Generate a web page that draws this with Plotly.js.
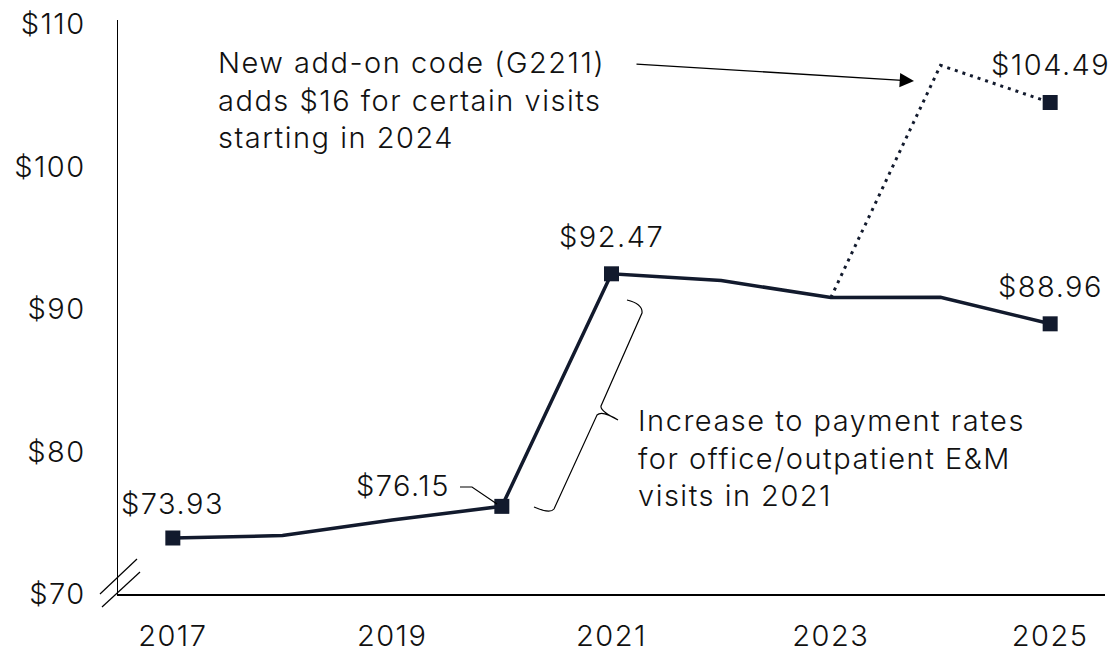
<!DOCTYPE html>
<html>
<head>
<meta charset="utf-8">
<script src="https://cdn.plot.ly/plotly-3.0.1.min.js"></script>
<style>html,body{margin:0;padding:0;background:#fff;}#chart{width:1112px;height:652px;}svg text{letter-spacing:1.5px;}</style>
</head>
<body>
<div id="chart"></div>
<script>
// ---- data ----
const years = [2017, 2018, 2019, 2020, 2021, 2022, 2023, 2024, 2025];
const payment = [73.93, 74.1, 75.2, 76.15, 92.47, 92.0, 90.8, 90.82, 88.96];
const addonYears = [2023, 2024, 2025];
const addonPayment = [90.8, 107.1, 104.49];
const markerIdx = [0, 3, 4, 8];
const xTicks = [2017, 2019, 2021, 2023, 2025];
const yTicks = [70, 80, 90, 100, 110];
const noteAddon = "New add-on code (G2211)<br>adds $16 for certain visits<br>starting in 2024";
const noteIncrease = "Increase to payment rates<br>for office/outpatient E&M<br>visits in 2021";

// ---- layout geometry ----
const W = 1112, H = 652;
const L = 118, R = 1105, T = 20, B = 594;
const px = v => (v - L) / (R - L);
const py = v => (B - v) / (B - T);
const navy = '#121a2d';
const FONT = 'Inter, "Open Sans", sans-serif';
const FS = 29;
const fmt = v => '$' + v.toFixed(2);

const traces = [
  {x: years, y: payment, mode: 'lines', line: {color: navy, width: 3.5}, hoverinfo: 'skip'},
  {x: addonYears, y: addonPayment, mode: 'lines', line: {color: navy, width: 3, dash: '3px,5px'}, hoverinfo: 'skip'},
  {x: markerIdx.map(i => years[i]).concat([addonYears[2]]),
   y: markerIdx.map(i => payment[i]).concat([addonPayment[2]]),
   mode: 'markers', marker: {symbol: 'square', size: 15, color: navy}, hoverinfo: 'skip'}
];

const tfont = {size: FS, color: '#111', family: FONT, weight: 300};
const lab = (x, y, opts) => Object.assign({x: x, y: y, xref: 'x', yref: 'y', text: fmt(y), showarrow: false,
  font: tfont}, opts);

const annotations = [
  lab(years[0], payment[0], {yshift: 35}),
  lab(years[3], payment[3], {xanchor: 'right', xshift: -50, yshift: 21}),
  lab(years[4], payment[4], {yshift: 37}),
  lab(years[8], payment[8], {yshift: 37}),
  lab(addonYears[2], addonPayment[2], {yshift: 38}),
  {x: px(216), y: py(100), xref: 'paper', yref: 'paper', xanchor: 'left', yanchor: 'middle', align: 'left',
   text: noteAddon, showarrow: false, font: tfont},
  {x: px(636), y: py(458), xref: 'paper', yref: 'paper', xanchor: 'left', yanchor: 'middle', align: 'left',
   text: noteIncrease, showarrow: false, font: tfont},
  {x: px(914), y: py(81), xref: 'paper', yref: 'paper', text: '', showarrow: true,
   ax: 635 - 914, ay: 64 - 81, arrowhead: 2, arrowsize: 2.2, arrowwidth: 1.3, arrowcolor: '#000', standoff: 0}
];

const P = (pts) => pts.map((p, i) => (i ? 'L' : 'M') + px(p[0]) + ',' + py(p[1])).join(' ');
const shapes = [
  {type: 'path', xref: 'paper', yref: 'paper', path: P([[460, 487], [472, 487], [497, 504]]), line: {color: '#000', width: 1.2}},
  {type: 'path', xref: 'paper', yref: 'paper',
   path: 'M' + px(627) + ',' + py(300) + ' Q' + px(643) + ',' + py(304) + ' ' + px(642) + ',' + py(313) +
     ' L' + px(601) + ',' + py(406) + ' Q' + px(600) + ',' + py(411) + ' ' + px(618) + ',' + py(420) +
     ' M' + px(618) + ',' + py(420) + ' Q' + px(602) + ',' + py(410) + ' ' + px(597) + ',' + py(415) +
     ' L' + px(554) + ',' + py(509) + ' Q' + px(550) + ',' + py(514) + ' ' + px(534) + ',' + py(507),
   line: {color: '#000', width: 1.2}},
  {type: 'line', xref: 'paper', yref: 'paper', x0: px(100), y0: py(594), x1: px(137), y1: py(559), line: {color: '#000', width: 1.2}},
  {type: 'line', xref: 'paper', yref: 'paper', x0: px(102), y0: py(607), x1: px(140), y1: py(572), line: {color: '#000', width: 1.2}}
];

const layout = {
  width: W, height: H,
  margin: {l: L, r: W - R, t: T, b: H - B},
  paper_bgcolor: '#fff', plot_bgcolor: '#fff',
  showlegend: false,
  font: {family: FONT, size: FS, color: '#111'},
  xaxis: {range: [2016.5, 2025.5], tickvals: xTicks, ticktext: xTicks.map(String), showgrid: false, zeroline: false,
    showline: true, linecolor: '#000', linewidth: 1.5, ticks: 'outside', ticklen: 16, tickcolor: 'rgba(0,0,0,0)',
    tickfont: tfont},
  yaxis: {range: [70, 110.28], tickvals: yTicks, ticktext: yTicks.map(v => '$' + v), showgrid: false, zeroline: false,
    showline: true, linecolor: '#000', linewidth: 1.5, ticks: 'outside', ticklen: 25, tickcolor: 'rgba(0,0,0,0)',
    tickfont: tfont},
  annotations: annotations,
  shapes: shapes
};

Plotly.newPlot('chart', traces, layout, {displayModeBar: false, staticPlot: true});
</script>
</body>
</html>
